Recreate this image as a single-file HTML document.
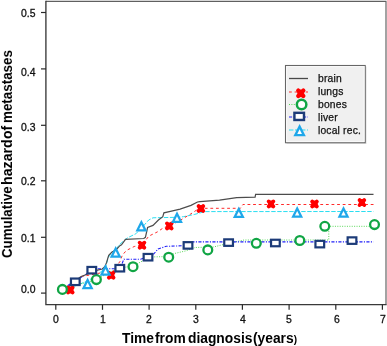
<!DOCTYPE html>
<html><head><meta charset="utf-8">
<style>
html,body{margin:0;padding:0;background:#fff;}
body{width:387px;height:346px;position:relative;overflow:hidden;font-family:"Liberation Sans",sans-serif;color:#111;}
.t{position:absolute;white-space:nowrap;line-height:1;will-change:transform;}
.yl{font-size:10.4px;left:20.8px;-webkit-text-stroke:0.3px #111;}
.xl{-webkit-text-stroke:0.3px #111;font-size:10.4px;width:20px;text-align:center;top:314.6px;}
.lg{-webkit-text-stroke:0.25px #111;font-size:10.3px;left:318.0px;letter-spacing:0.18px;}
.xw{top:332.0px;font-size:13.8px;font-weight:bold;color:#000;}
.yw{left:-0.2px;font-weight:bold;color:#000;transform-origin:0 0;}
#w{position:absolute;left:-20px;top:-20px;width:427px;height:386px;background:#fff;filter:blur(0.38px);}
#c{position:absolute;left:20px;top:20px;width:387px;height:346px;}
</style></head><body><div id="w"><div id="c">
<svg width="387" height="346" viewBox="0 0 387 346" style="position:absolute;left:0;top:0">
<rect x="0" y="0" width="387" height="346" fill="#fff"/>
<polyline points="45.9,1.3 386.0,1.3 386.0,304.6" fill="none" stroke="#606060" stroke-width="1.15"/><polyline points="45.9,0.7 45.9,304.6 386.6,304.6" fill="none" stroke="#3a3a3a" stroke-width="1.35"/>
<line x1="41" y1="12.5" x2="46" y2="12.5" stroke="#2a2a2a" stroke-width="1.2"/>
<line x1="41" y1="68.9" x2="46" y2="68.9" stroke="#2a2a2a" stroke-width="1.2"/>
<line x1="41" y1="125.3" x2="46" y2="125.3" stroke="#2a2a2a" stroke-width="1.2"/>
<line x1="41" y1="180.8" x2="46" y2="180.8" stroke="#2a2a2a" stroke-width="1.2"/>
<line x1="41" y1="237.3" x2="46" y2="237.3" stroke="#2a2a2a" stroke-width="1.2"/>
<line x1="41" y1="293.1" x2="46" y2="293.1" stroke="#2a2a2a" stroke-width="1.2"/>
<line x1="55.8" y1="304.5" x2="55.8" y2="309.8" stroke="#2a2a2a" stroke-width="1.2"/>
<line x1="102.5" y1="304.5" x2="102.5" y2="309.8" stroke="#2a2a2a" stroke-width="1.2"/>
<line x1="149.1" y1="304.5" x2="149.1" y2="309.8" stroke="#2a2a2a" stroke-width="1.2"/>
<line x1="195.8" y1="304.5" x2="195.8" y2="309.8" stroke="#2a2a2a" stroke-width="1.2"/>
<line x1="242.4" y1="304.5" x2="242.4" y2="309.8" stroke="#2a2a2a" stroke-width="1.2"/>
<line x1="289.1" y1="304.5" x2="289.1" y2="309.8" stroke="#2a2a2a" stroke-width="1.2"/>
<line x1="335.8" y1="304.5" x2="335.8" y2="309.8" stroke="#2a2a2a" stroke-width="1.2"/>
<line x1="382.4" y1="304.5" x2="382.4" y2="309.8" stroke="#2a2a2a" stroke-width="1.2"/>
<polyline points="62.0,290.0 75.0,286.0 87.6,281.0 97.0,275.0 105.5,268.0 108.0,258.0 112.0,252.0 115.7,250.0 119.0,245.0 125.5,239.3 127.8,237.7 135.8,233.8 142.2,227.4 148.7,220.0 153.0,217.8 177.0,217.3 183.4,216.7 194.2,214.5 204.8,211.6 373.5,211.5" fill="none" stroke="#1fdcf0" stroke-width="0.95" stroke-dasharray="4.4 1.6"/>
<polyline points="62.4,289.4 80.0,284.0 96.4,279.6 110.0,272.0 120.0,268.0 133.0,266.0 139.8,262.4 150.0,257.0 168.7,256.5 174.4,253.5 186.2,250.8 195.2,247.5 213.4,247.0 230.0,243.0 244.0,240.0 328.8,240.0 328.8,226.3 374.5,226.3" fill="none" stroke="#58d858" stroke-width="1" stroke-dasharray="1 1.4"/>
<polyline points="62.0,290.0 70.0,284.0 75.0,281.0 85.0,275.0 92.0,270.0 96.0,268.8 119.9,268.8 123.9,259.2 140.6,259.2 147.8,256.8 153.0,254.7 158.1,249.0 166.3,246.3 188.0,245.6 193.4,241.9 373.5,241.9" fill="none" stroke="#2020f8" stroke-width="1.1" stroke-dasharray="3.1 1.4 1.1 1.4"/>
<polyline points="70.5,289.7 76.0,282.0 81.0,276.5 90.0,275.0 100.0,273.0 106.0,273.0 111.2,275.0 115.0,268.0 119.9,261.6 122.3,255.3 126.3,250.5 134.2,246.5 142.2,244.9 148.7,236.2 157.4,231.9 163.9,227.5 169.3,226.0 179.0,221.0 189.9,214.5 196.4,210.2 200.7,208.3 240.4,208.3 242.9,204.5 373.5,204.5" fill="none" stroke="#ff2a2a" stroke-width="1" stroke-dasharray="2.8 2.8"/>
<polyline points="62.0,290.0 68.0,287.0 74.0,282.0 80.7,276.8 88.2,273.8 92.0,272.0 97.6,270.2 102.3,269.0 105.0,266.5 106.6,262.4 108.7,255.3 112.0,252.0 116.0,250.0 119.9,245.7 121.5,244.9 125.5,239.3 143.8,238.5 145.4,237.3 147.6,227.5 153.0,225.4 158.4,220.0 162.8,216.7 163.9,212.8 170.4,211.3 180.1,209.1 191.0,205.4 197.5,202.0 199.9,201.6 219.5,200.1 236.7,197.7 255.1,197.2 255.6,194.3 373.5,194.3" fill="none" stroke="#4c4c4c" stroke-width="1.2"/>
<g stroke="#ff0000" stroke-width="3.90" stroke-linecap="round"><line x1="68.00" y1="287.58" x2="72.60" y2="292.42"/><line x1="68.00" y1="292.42" x2="72.60" y2="287.58"/></g><ellipse cx="70.30" cy="290.00" rx="3.00" ry="3.50" fill="#ff0000"/>
<g stroke="#ff0000" stroke-width="3.90" stroke-linecap="round"><line x1="108.90" y1="272.78" x2="113.50" y2="277.62"/><line x1="108.90" y1="277.62" x2="113.50" y2="272.78"/></g><ellipse cx="111.20" cy="275.20" rx="3.00" ry="3.50" fill="#ff0000"/>
<g stroke="#ff0000" stroke-width="3.90" stroke-linecap="round"><line x1="139.70" y1="242.78" x2="144.30" y2="247.61"/><line x1="139.70" y1="247.61" x2="144.30" y2="242.78"/></g><ellipse cx="142.00" cy="245.20" rx="3.00" ry="3.50" fill="#ff0000"/>
<g stroke="#ff0000" stroke-width="3.90" stroke-linecap="round"><line x1="167.00" y1="223.48" x2="171.60" y2="228.31"/><line x1="167.00" y1="228.31" x2="171.60" y2="223.48"/></g><ellipse cx="169.30" cy="225.90" rx="3.00" ry="3.50" fill="#ff0000"/>
<g stroke="#ff0000" stroke-width="3.90" stroke-linecap="round"><line x1="198.60" y1="206.09" x2="203.20" y2="210.91"/><line x1="198.60" y1="210.91" x2="203.20" y2="206.09"/></g><ellipse cx="200.90" cy="208.50" rx="3.00" ry="3.50" fill="#ff0000"/>
<g stroke="#ff0000" stroke-width="3.90" stroke-linecap="round"><line x1="268.70" y1="201.48" x2="273.30" y2="206.31"/><line x1="268.70" y1="206.31" x2="273.30" y2="201.48"/></g><ellipse cx="271.00" cy="203.90" rx="3.00" ry="3.50" fill="#ff0000"/>
<g stroke="#ff0000" stroke-width="3.90" stroke-linecap="round"><line x1="312.20" y1="201.59" x2="316.80" y2="206.41"/><line x1="312.20" y1="206.41" x2="316.80" y2="201.59"/></g><ellipse cx="314.50" cy="204.00" rx="3.00" ry="3.50" fill="#ff0000"/>
<g stroke="#ff0000" stroke-width="3.90" stroke-linecap="round"><line x1="359.60" y1="200.19" x2="364.20" y2="205.01"/><line x1="359.60" y1="205.01" x2="364.20" y2="200.19"/></g><ellipse cx="361.90" cy="202.60" rx="3.00" ry="3.50" fill="#ff0000"/>
<circle cx="62.4" cy="289.4" r="4.40" fill="#fff" stroke="#10a544" stroke-width="2.30"/>
<circle cx="96.4" cy="279.6" r="4.40" fill="#fff" stroke="#10a544" stroke-width="2.30"/>
<circle cx="133.0" cy="266.7" r="4.40" fill="#fff" stroke="#10a544" stroke-width="2.30"/>
<circle cx="168.7" cy="257.2" r="4.40" fill="#fff" stroke="#10a544" stroke-width="2.30"/>
<circle cx="207.8" cy="249.9" r="4.40" fill="#fff" stroke="#10a544" stroke-width="2.30"/>
<circle cx="256.3" cy="243.3" r="4.40" fill="#fff" stroke="#10a544" stroke-width="2.30"/>
<circle cx="299.8" cy="240.5" r="4.40" fill="#fff" stroke="#10a544" stroke-width="2.30"/>
<circle cx="324.8" cy="226.3" r="4.40" fill="#fff" stroke="#10a544" stroke-width="2.30"/>
<circle cx="374.5" cy="224.6" r="4.40" fill="#fff" stroke="#10a544" stroke-width="2.30"/>
<rect x="70.95" y="278.55" width="8.70" height="6.50" fill="#fff" stroke="#1c3b78" stroke-width="2.20"/>
<rect x="87.45" y="266.95" width="8.70" height="6.50" fill="#fff" stroke="#1c3b78" stroke-width="2.20"/>
<rect x="115.45" y="264.95" width="8.70" height="6.50" fill="#fff" stroke="#1c3b78" stroke-width="2.20"/>
<rect x="143.65" y="253.95" width="8.70" height="6.50" fill="#fff" stroke="#1c3b78" stroke-width="2.20"/>
<rect x="183.65" y="242.15" width="8.70" height="6.50" fill="#fff" stroke="#1c3b78" stroke-width="2.20"/>
<rect x="224.25" y="239.35" width="8.70" height="6.50" fill="#fff" stroke="#1c3b78" stroke-width="2.20"/>
<rect x="271.05" y="239.75" width="8.70" height="6.50" fill="#fff" stroke="#1c3b78" stroke-width="2.20"/>
<rect x="315.45" y="240.85" width="8.70" height="6.50" fill="#fff" stroke="#1c3b78" stroke-width="2.20"/>
<rect x="347.65" y="237.35" width="8.70" height="6.50" fill="#fff" stroke="#1c3b78" stroke-width="2.20"/>
<path d="M87.60,277.50 L93.50,289.20 L81.70,289.20 Z" fill="#1ea7ea"/><path d="M87.60,282.50 L89.85,286.95 L85.35,286.95 Z" fill="#fff"/>
<path d="M105.50,264.00 L111.40,275.70 L99.60,275.70 Z" fill="#1ea7ea"/><path d="M105.50,269.00 L107.75,273.45 L103.25,273.45 Z" fill="#fff"/>
<path d="M115.70,246.00 L121.60,257.70 L109.80,257.70 Z" fill="#1ea7ea"/><path d="M115.70,251.00 L117.95,255.45 L113.45,255.45 Z" fill="#fff"/>
<path d="M141.40,219.70 L147.30,231.40 L135.50,231.40 Z" fill="#1ea7ea"/><path d="M141.40,224.70 L143.65,229.15 L139.15,229.15 Z" fill="#fff"/>
<path d="M177.00,211.30 L182.90,223.00 L171.10,223.00 Z" fill="#1ea7ea"/><path d="M177.00,216.30 L179.25,220.75 L174.75,220.75 Z" fill="#fff"/>
<path d="M238.80,206.40 L244.70,218.10 L232.90,218.10 Z" fill="#1ea7ea"/><path d="M238.80,211.40 L241.05,215.85 L236.55,215.85 Z" fill="#fff"/>
<path d="M297.20,206.00 L303.10,217.70 L291.30,217.70 Z" fill="#1ea7ea"/><path d="M297.20,211.00 L299.45,215.45 L294.95,215.45 Z" fill="#fff"/>
<path d="M343.50,206.00 L349.40,217.70 L337.60,217.70 Z" fill="#1ea7ea"/><path d="M343.50,211.00 L345.75,215.45 L341.25,215.45 Z" fill="#fff"/>
<rect x="286.5" y="66.5" width="80" height="77.5" fill="#bdbdbd" opacity="0.5"/>
<rect x="285.5" y="65.5" width="79.7" height="77.2" fill="#f0f0f0" stroke="#666" stroke-width="1.1"/><rect x="286.6" y="66.6" width="77.5" height="75" fill="none" stroke="#fafafa" stroke-width="1"/>
<line x1="289" y1="78.5" x2="308" y2="78.5" stroke="#484848" stroke-width="1.3"/>
<line x1="289" y1="92" x2="308" y2="92" stroke="#ff2a2a" stroke-width="1" stroke-dasharray="2.8 2.8"/>
<line x1="289" y1="104.5" x2="308" y2="104.5" stroke="#58d858" stroke-width="1" stroke-dasharray="1 1.4"/>
<line x1="289" y1="117" x2="308" y2="117" stroke="#2020f8" stroke-width="1.1" stroke-dasharray="3.1 1.4 1.1 1.4"/>
<line x1="289" y1="130" x2="308" y2="130" stroke="#1fdcf0" stroke-width="0.95" stroke-dasharray="4.4 1.6"/>
<g stroke="#ff0000" stroke-width="4.29" stroke-linecap="round"><line x1="298.27" y1="90.64" x2="303.33" y2="95.96"/><line x1="298.27" y1="95.96" x2="303.33" y2="90.64"/></g><ellipse cx="300.80" cy="93.30" rx="3.30" ry="3.85" fill="#ff0000"/>
<circle cx="301.6" cy="104.4" r="4.75" fill="#fff" stroke="#10a544" stroke-width="2.48"/>
<rect x="294.41" y="112.83" width="9.57" height="7.15" fill="#fff" stroke="#1c3b78" stroke-width="2.42"/>
<path d="M299.60,124.01 L305.80,136.29 L293.41,136.29 Z" fill="#1ea7ea"/><path d="M299.60,129.25 L301.96,133.93 L297.24,133.93 Z" fill="#fff"/>
</svg>
<div class="t yl" style="top:9.10px">0.5</div>
<div class="t yl" style="top:68.35px">0.4</div>
<div class="t yl" style="top:122.85px">0.3</div>
<div class="t yl" style="top:176.85px">0.2</div>
<div class="t yl" style="top:233.65px">0.1</div>
<div class="t yl" style="top:284.85px">0.0</div>
<div class="t xl" style="left:45.6px">0</div>
<div class="t xl" style="left:93.4px">1</div>
<div class="t xl" style="left:139.2px">2</div>
<div class="t xl" style="left:185.8px">3</div>
<div class="t xl" style="left:233.1px">4</div>
<div class="t xl" style="left:279.2px">5</div>
<div class="t xl" style="left:326.6px">6</div>
<div class="t xl" style="left:372.5px">7</div>
<div class="t lg" style="top:74.3px">brain</div>
<div class="t lg" style="top:87.3px">lungs</div>
<div class="t lg" style="top:100.3px">bones</div>
<div class="t lg" style="top:113.3px">liver</div>
<div class="t lg" style="top:126.3px">local rec.</div>
<div class="t xw" style="left:122.3px">Time</div>
<div class="t xw" style="left:155.3px">from</div>
<div class="t xw" style="left:188.3px">diagnosis</div>
<div class="t xw" style="left:253.3px">(years<span style="font-size:10px;position:relative;top:-0.5px">)</span></div>
<div class="t yw" style="top:258.33px;font-size:13.3px;transform:rotate(-90deg) scaleY(1.075)">Cumulative</div>
<div class="t yw" style="top:185.39px;font-size:14.2px;transform:rotate(-90deg) scaleY(1.007)">hazard</div>
<div class="t yw" style="top:138.56px;font-size:14.0px;transform:rotate(-90deg) scaleY(1.021)">of</div>
<div class="t yw" style="top:123.24px;font-size:13.4px;transform:rotate(-90deg) scaleY(1.067)">metastases</div>
</div></div></body></html>
